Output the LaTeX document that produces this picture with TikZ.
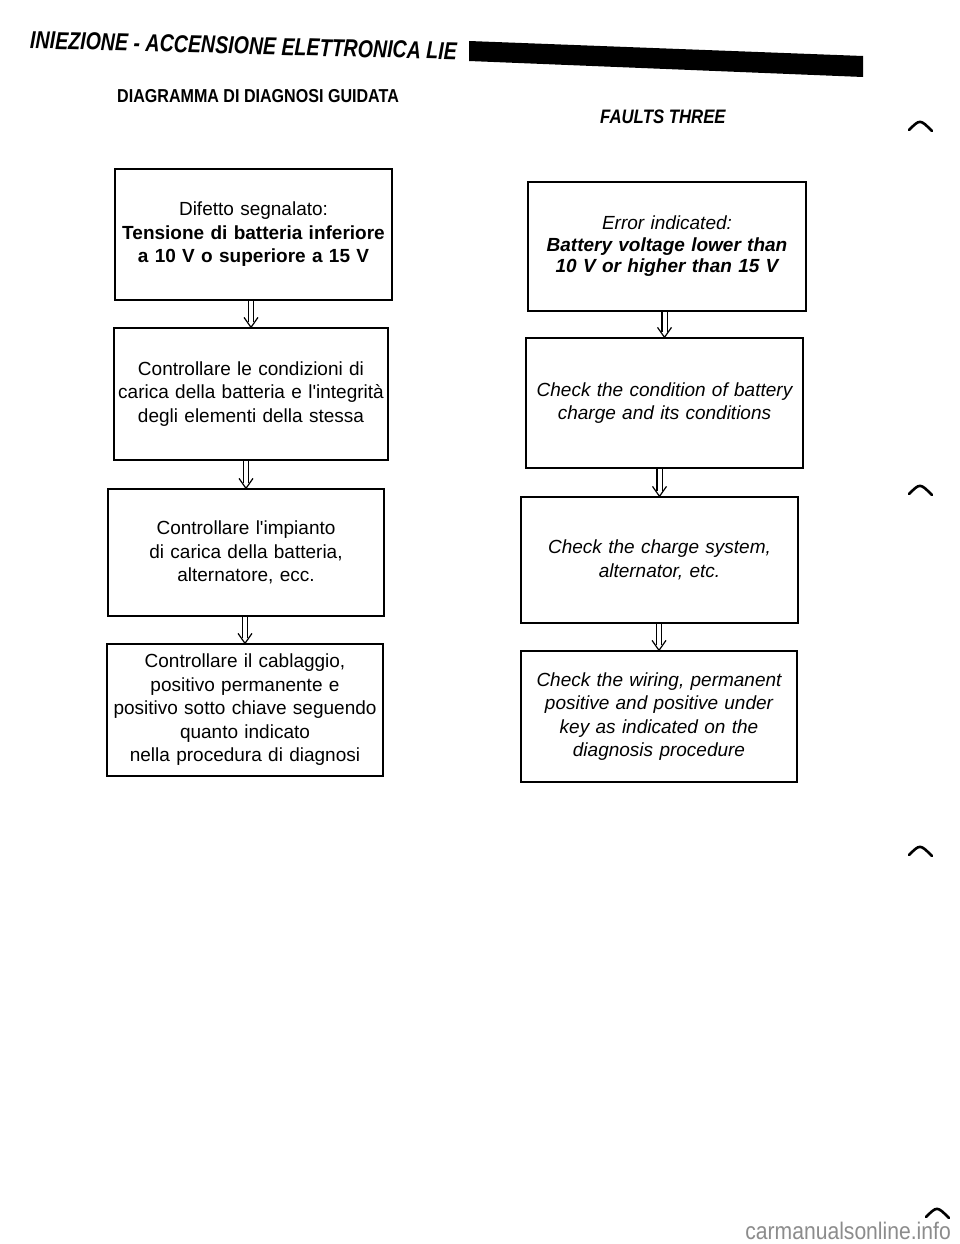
\documentclass[tikz,border=0pt]{standalone}
\usepackage{fontspec}
\setmainfont{Liberation Sans}
\newfontfamily\headfont[FakeStretch=0.80]{Liberation Sans}
\newfontfamily\condfont[FakeStretch=0.86]{Liberation Sans}
\newfontfamily\markfont[FakeStretch=0.88]{Liberation Sans}
\usetikzlibrary{arrows.meta}
\newcommand{\dblarrow}[2]{%
  \path (#1) coordinate (dt) (#2) coordinate (db);
  \draw[arrline] ([xshift=-2.6pt]dt) -- ([xshift=-2.6pt,yshift=5pt]db);
  \draw[arrline] ([xshift=2.6pt]dt) -- ([xshift=2.6pt,yshift=5pt]db);
  \draw[arrline, line join=miter] ([xshift=-7pt,yshift=10pt]db) -- (db) -- ([xshift=7pt,yshift=10pt]db);
}
\begin{document}
\begin{tikzpicture}[x=1pt,y=-1pt,
  box/.style={draw, line width=1.3pt, align=center, inner sep=0pt,
    font=\fontsize{19}{23.5}\selectfont},
  ebox/.style={box, font=\fontsize{19}{23.5}\selectfont\itshape},
  arrline/.style={line width=1.2pt},
  binder/.style={line width=2.6pt, line cap=round}
]
\useasboundingbox (0,0) rectangle (960,1244);
\fill[white] (0,0) rectangle (960,1244);

% header
\node[anchor=west, inner sep=0pt, rotate=-1.5, font=\headfont\fontsize{24.5}{26}\selectfont\bfseries\itshape] (head) at (30,40) {INIEZIONE - ACCENSIONE ELETTRONICA LIE};
\fill (469,41) -- (863,56) -- (863,77) -- (469,61) -- cycle;
\node[anchor=west, inner sep=0pt, font=\condfont\fontsize{18.7}{20}\selectfont\bfseries] (titIT) at (117,96) {DIAGRAMMA DI DIAGNOSI GUIDATA};
\node[anchor=west, inner sep=0pt, font=\condfont\fontsize{19.5}{20}\selectfont\bfseries\itshape] (titEN) at (600,117) {FAULTS THREE};

% left column
\node[box, minimum width=277, minimum height=131, text width=273] (L1) at (253.5,234.5)
  {Difetto segnalato:\\ \textbf{Tensione di batteria inferiore}\\ \textbf{a 10 V o superiore a 15 V}};
\node[box, minimum width=274, minimum height=132, text width=272] (L2) at (251,394)
  {Controllare le condizioni di\\ carica della batteria e l\textquotesingle integrità\\ degli elementi della stessa};
\node[box, minimum width=276, minimum height=127, text width=272] (L3) at (246,552.5)
  {Controllare l\textquotesingle impianto\\ di carica della batteria,\\ alternatore, ecc.};
\node[box, minimum width=276, minimum height=132, text width=272] (L4) at (245,710)
  {Controllare il cablaggio,\\ positivo permanente e\\ positivo sotto chiave seguendo\\ quanto indicato\\ nella procedura di diagnosi};

% right column
\node[ebox, font=\fontsize{19}{21.5}\selectfont\itshape, minimum width=278, minimum height=129, text width=274] (R1) at (667,246.5)
  {Error indicated:\\ \textbf{Battery voltage lower than}\\ \textbf{10 V or higher than 15 V}};
\node[ebox, minimum width=277, minimum height=130, text width=274] (R2) at (664.5,403)
  {Check the condition of battery\\ charge and its conditions};
\node[ebox, minimum width=277, minimum height=126, text width=274] (R3) at (659.5,560)
  {Check the charge system,\\ alternator, etc.};
\node[ebox, minimum width=276, minimum height=131, text width=272] (R4) at (659,716.5)
  {Check the wiring, permanent\\ positive and positive under\\ key as indicated on the\\ diagnosis procedure};

% connectors
\dblarrow{L2.north |- L1.south}{L2.north}
\dblarrow{L3.north |- L2.south}{L3.north}
\dblarrow{L4.north |- L3.south}{L4.north}
\dblarrow{R2.north |- R1.south}{R2.north}
\dblarrow{R3.north |- R2.south}{R3.north}
\dblarrow{R4.north |- R3.south}{R4.north}

% binder marks
\draw[binder] (909,130) .. controls (920,119) .. (932,131);
\draw[binder] (909,494) .. controls (920,483) .. (932,495);
\draw[binder] (909,855) .. controls (920,844) .. (932,856);
\draw[binder] (926,1217) .. controls (937,1206) .. (949,1218);

% watermark
\node[anchor=base east, inner sep=0pt, text=black!45, font=\markfont\fontsize{24}{26}\selectfont] (wm) at (951,1239) {carmanualsonline.info};
\end{tikzpicture}
\end{document}
